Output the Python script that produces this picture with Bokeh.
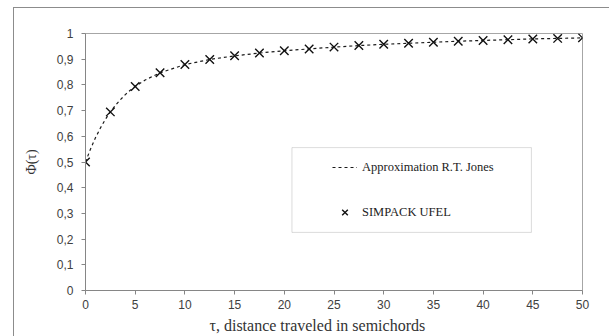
from bokeh.plotting import figure
from bokeh.models import (Range1d, FixedTicker, CustomJSTickFormatter, Legend, LegendItem,
                          BoxAnnotation, Title, InlineStyleSheet)
from bokeh.embed import file_html
from bokeh.resources import INLINE

# R.T. Jones approximation (dashed curve)
tau_line = [0, 0.5, 1, 1.5, 2, 2.5, 3, 3.5, 4, 4.5, 5, 6, 7.5, 10, 12.5, 15, 17.5, 20, 22.5,
            25, 27.5, 30, 32.5, 35, 37.5, 40, 42.5, 45, 47.5, 50]
phi_line = [0.500, 0.550, 0.594, 0.632, 0.666, 0.695, 0.720, 0.742, 0.762, 0.779, 0.794,
            0.819, 0.847, 0.879, 0.899, 0.913, 0.924, 0.933, 0.940, 0.947, 0.953, 0.958,
            0.962, 0.966, 0.970, 0.973, 0.976, 0.979, 0.981, 0.983]

# SIMPACK UFEL points
tau_pts = [0, 2.5, 5, 7.5, 10, 12.5, 15, 17.5, 20, 22.5, 25, 27.5, 30, 32.5, 35, 37.5,
           40, 42.5, 45, 47.5, 50]
phi_pts = [0.500, 0.695, 0.794, 0.847, 0.879, 0.899, 0.913, 0.924, 0.933, 0.940, 0.947,
           0.953, 0.958, 0.962, 0.966, 0.970, 0.973, 0.976, 0.979, 0.981, 0.983]

x_ticks = [0, 5, 10, 15, 20, 25, 30, 35, 40, 45, 50]
y_ticks = [0, 0.1, 0.2, 0.3, 0.4, 0.5, 0.6, 0.7, 0.8, 0.9, 1.0]

x_title = "τ, distance traveled in semichords"
y_title = "Φ(τ)"
line_name = "Approximation R.T. Jones"
pts_name = "SIMPACK UFEL"

p = figure(width=596, height=329, x_range=Range1d(0, 50), y_range=Range1d(0, 1),
           output_backend="svg", toolbar_location=None,
           min_border_left=71, min_border_right=28, min_border_top=25, min_border_bottom=47)
p.stylesheets = [InlineStyleSheet(css=":host { margin-left: 13px; margin-top: 7px; "
                                      "border-left: 1px solid #8c8c8c; border-top: 1px solid #8c8c8c; "
                                      "box-sizing: border-box; }")]

p.grid.visible = False
p.outline_line_color = "#a6a6a6"
p.outline_line_width = 1

for ax in (p.xaxis[0], p.yaxis[0]):
    ax.axis_line_color = "#868686"
    ax.major_tick_line_color = "#868686"
    ax.major_tick_in = 0
    ax.major_tick_out = 4
    ax.minor_tick_line_color = None
    ax.major_label_text_font = "Liberation Sans"
    ax.major_label_text_font_size = "12px"
    ax.major_label_text_color = "#404040"

p.xaxis.ticker = FixedTicker(ticks=x_ticks)
p.yaxis.ticker = FixedTicker(ticks=y_ticks)
p.yaxis.formatter = CustomJSTickFormatter(code="""
    const s = Math.round(tick * 10) / 10;
    return s.toString().replace('.', ',');
""")
p.xaxis.major_label_standoff = 5
p.yaxis.major_label_standoff = 8

p.yaxis.axis_label = y_title
p.yaxis.axis_label_text_font = "Liberation Serif"
p.yaxis.axis_label_text_font_style = "normal"
p.yaxis.axis_label_text_font_size = "14px"
p.yaxis.axis_label_text_color = "#333333"
p.yaxis.axis_label_standoff = 15

xt = Title(text=x_title, align="left", offset=124, text_font="Liberation Serif",
           text_font_size="16px", text_font_style="normal", text_color="#333333",
           standoff=6)
p.add_layout(xt, "below")

line_r = p.line(tau_line, phi_line, line_color="#1a1a1a", line_width=1.2, line_dash="3 3")
pts_r = p.scatter(tau_pts, phi_pts, marker="x", size=12, line_color="#111111", line_width=1.4)

# legend frame
box = BoxAnnotation(left=20.77, right=44.86, bottom=0.226, top=0.556,
                    fill_color="white", fill_alpha=1.0, line_color="#8c8c8c", line_width=1,
                    level="underlay")
p.add_layout(box)

legend = Legend(items=[LegendItem(label=line_name, renderers=[line_r]),
                       LegendItem(label=pts_name, renderers=[pts_r])],
                location=(247, 68), orientation="vertical",
                padding=0, margin=0, spacing=25,
                glyph_width=25, glyph_height=20, label_standoff=5,
                label_text_font="Liberation Serif", label_text_font_size="12.5px",
                label_text_color="#222222", label_height=20,
                border_line_color=None, background_fill_alpha=0)
p.add_layout(legend, "center")

open("out.html", "w").write(file_html(p, INLINE))
